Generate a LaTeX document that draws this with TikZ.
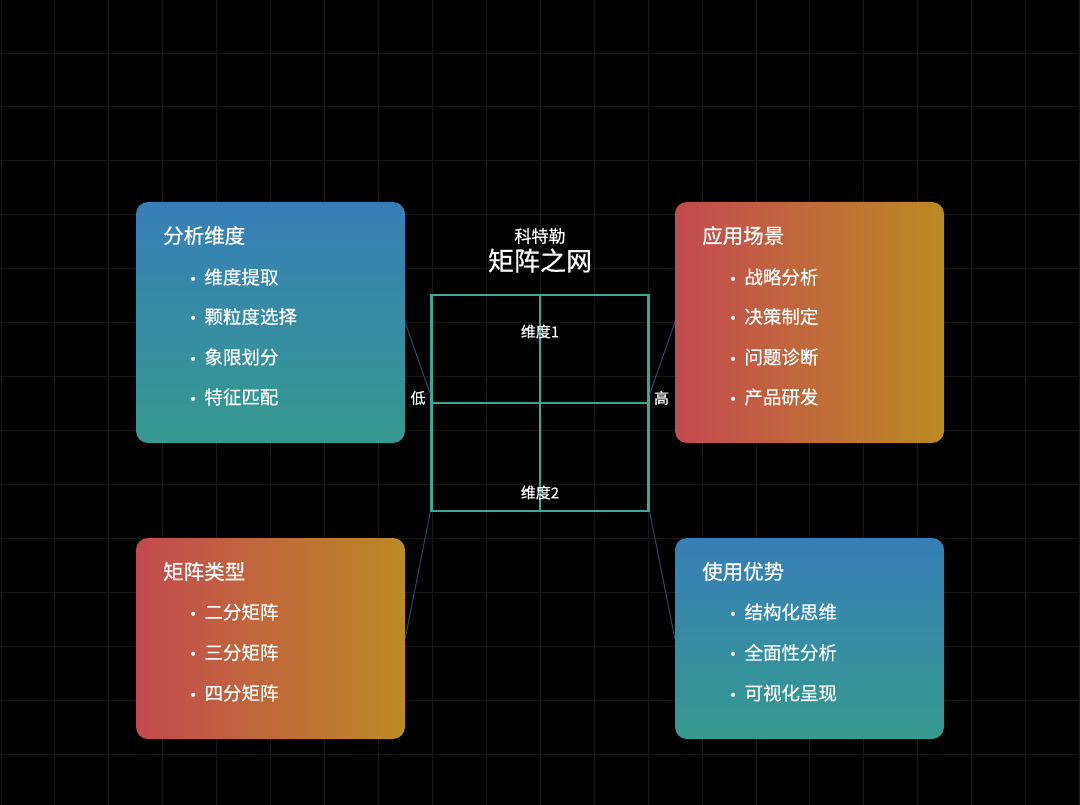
\documentclass[tikz,border=0pt]{standalone}
\usepackage{fontspec}
\setmainfont{Noto Sans CJK SC}[FakeBold=0.5]
\newfontfamily\bulfont{DejaVu Sans}
\definecolor{gridc}{HTML}{161616}
\definecolor{boxblue}{HTML}{377EB8}
\definecolor{boxteal}{HTML}{359A8E}
\definecolor{boxred}{HTML}{C44A50}
\definecolor{boxgold}{HTML}{BC8A24}
\definecolor{mteal}{HTML}{3AA898}
\definecolor{linkc}{HTML}{26496A}
\newcommand{\bul}{{\bulfont\fontsize{14}{14}\selectfont •}\hspace{7pt}}
\begin{document}
\begin{tikzpicture}[x=1pt,y=-1pt,
  gridline/.style={draw=gridc,line width=1pt},
  boxbase/.style={rounded corners=12pt,minimum width=269pt,inner sep=0pt},
  bluebox/.style={boxbase,top color=boxblue,bottom color=boxteal},
  warmbox/.style={boxbase,left color=boxred,right color=boxgold},
  title/.style={anchor=west,inner sep=0pt,text=white,font=\fontsize{20.5}{22}\selectfont},
  item/.style={anchor=west,inner sep=0pt,text=white,font=\fontsize{18.5}{20}\selectfont},
  lbl/.style={inner sep=0pt,text=white,font=\fontsize{15}{16}\selectfont},
  link/.style={draw=linkc,line width=1pt}]
\fill[black] (0,0) rectangle (1080,805);
\useasboundingbox (0,0) rectangle (1080,805);
% grid
\foreach \i in {0,...,20} \draw[gridline] ({1+53.93*\i},0) -- ({1+53.93*\i},805);
\foreach \j in {1,...,14} \draw[gridline] (0,{-0.9+53.93*\j}) -- (1080,{-0.9+53.93*\j});
% matrix
\node[draw=mteal,line width=2.5pt,minimum width=217pt,minimum height=216pt,inner sep=0pt] (m) at (540,403) {};
\draw[mteal,line width=1.8pt] (m.north) -- (m.south);
\draw[mteal,line width=1.8pt] (m.west) -- (m.east);
% boxes
\node[bluebox,minimum height=241pt] (b1) at (270.5,322.5) {};
\node[warmbox,minimum height=241pt] (b2) at (809.5,322.5) {};
\node[warmbox,minimum height=201pt] (b3) at (270.5,638.5) {};
\node[bluebox,minimum height=201pt] (b4) at (809.5,638.5) {};
% links
\coordinate (mw) at ([yshift=9pt]m.west);
\coordinate (me) at ([yshift=9pt]m.east);
\draw[link] (b1.east) -- (mw);
\draw[link] (b2.west) -- (me);
\draw[link] (m.south west) -- (b3.east);
\draw[link] (m.south east) -- (b4.west);
% center texts
\node[lbl,font=\fontsize{17}{18}\selectfont] (t1) at (540,236) {科特勒};
\node[lbl,font=\fontsize{26}{28}\selectfont] (t2) at (540,260.5) {矩阵之网};
\node[lbl] (d1) at (540,331.5) {维度1};
\node[lbl] (d2) at (540,492.5) {维度2};
\node[lbl] (lo) at (418,398) {低};
\node[lbl] (hi) at (661.5,398) {高};
% box 1
\node[title] (h1) at (163,235.5) {分析维度};
\node[item] (i11) at (189,277) {\bul 维度提取};
\node[item] (i12) at (189,316.5) {\bul 颗粒度选择};
\node[item] (i13) at (189,357) {\bul 象限划分};
\node[item] (i14) at (189,397) {\bul 特征匹配};
% box 2
\node[title] (h2) at (702,235.5) {应用场景};
\node[item] (i21) at (729,277) {\bul 战略分析};
\node[item] (i22) at (729,316.5) {\bul 决策制定};
\node[item] (i23) at (729,357) {\bul 问题诊断};
\node[item] (i24) at (729,397) {\bul 产品研发};
% box 3
\node[title] (h3) at (163,571.5) {矩阵类型};
\node[item] (i31) at (189,612) {\bul 二分矩阵};
\node[item] (i32) at (189,652.5) {\bul 三分矩阵};
\node[item] (i33) at (189,693) {\bul 四分矩阵};
% box 4
\node[title] (h4) at (702,571.5) {使用优势};
\node[item] (i41) at (729,612) {\bul 结构化思维};
\node[item] (i42) at (729,652.5) {\bul 全面性分析};
\node[item] (i43) at (729,693) {\bul 可视化呈现};
\end{tikzpicture}
\end{document}
